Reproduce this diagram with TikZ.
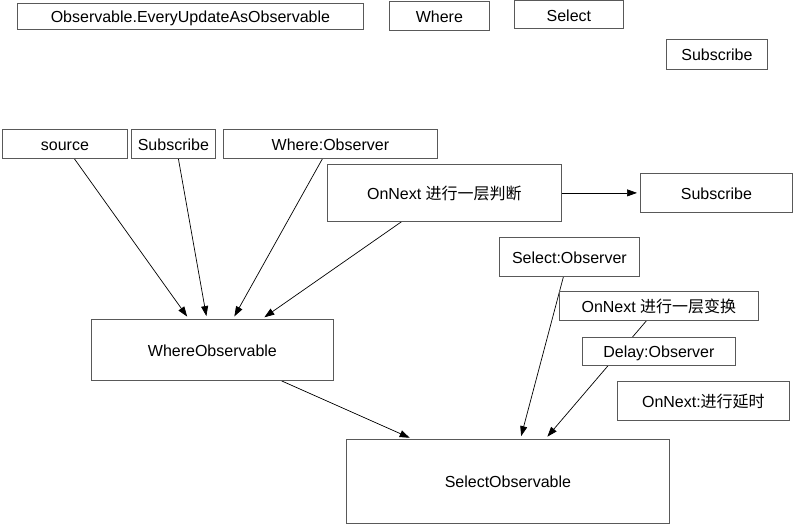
\documentclass[tikz,border=0pt]{standalone}
\usepackage{fontspec}
\setmainfont{Liberation Sans}
\newfontfamily\cjk{Noto Sans CJK SC}
\usetikzlibrary{arrows.meta,backgrounds}
\begin{document}
\begin{tikzpicture}[x=1pt,y=-1pt,
  box/.style={draw=black!65, line width=0.8pt, fill=white, anchor=north west, inner sep=0pt,
    font=\fontsize{16}{18}\selectfont, text=black, text height=13.5pt, text depth=1pt},
  arr/.style={draw=black, line width=0.7pt, -{Triangle[length=10pt,width=7pt]}, shorten >=3pt}]
\useasboundingbox (0,0) rectangle (793,524);
% top row
\node[box, minimum width=346pt, minimum height=26pt] (obs) at (17,3) {Observable.EveryUpdateAsObservable};
\node[box, minimum width=100pt, minimum height=29pt] (where) at (389,1) {Where};
\node[box, minimum width=109pt, minimum height=28pt] (select) at (514,0.5) {Select};
\node[box, minimum width=101pt, minimum height=30pt] (subA) at (666,39) {Subscribe};
% second row
\node[box, minimum width=125pt, minimum height=29pt] (source) at (2,129) {source};
\node[box, minimum width=84pt, minimum height=29pt] (subB) at (131,129) {Subscribe};
\node[box, minimum width=214pt, minimum height=29pt] (wobs) at (223,129) {Where:Observer};
\node[box, minimum width=234pt, minimum height=57pt] (onw) at (327,164) {OnNext {\cjk 进行一层判断}};
\node[box, minimum width=152pt, minimum height=39pt] (subC) at (640,173) {Subscribe};
\node[box, minimum width=242pt, minimum height=61pt] (wo) at (91,319) {WhereObservable};
\node[box, minimum width=323pt, minimum height=84pt] (so) at (346,439) {SelectObservable};
\node[box, minimum width=140pt, minimum height=39pt] (sobs) at (499,237) {Select:Observer};
\node[box, minimum width=199pt, minimum height=29pt] (ons) at (559,291) {OnNext {\cjk 进行一层变换}};
\node[box, minimum width=172pt, minimum height=39pt] (ond) at (617,381) {OnNext:{\cjk 进行延时}};
\begin{pgfonlayer}{background}
\fill[white] (0,0) rectangle (793,524);
\draw[arr] ([xshift=9.5pt]source.south) -- ([xshift=-23.5pt]wo.north);
\draw[arr] ([xshift=5pt]subB.south) -- ([xshift=-5.5pt]wo.north);
\draw[arr] ([xshift=-8pt]wobs.south) -- ([xshift=20.5pt]wo.north);
\draw[arr] ([xshift=-43pt]onw.south) -- ([xshift=49.5pt]wo.north);
\draw[arr] ([xshift=69pt]wo.south) -- ([xshift=-95.5pt]so.north);
\draw[arr] ([xshift=-6pt]sobs.south) -- ([xshift=12.5pt]so.north);
\draw[arr] ([xshift=-12.5pt]ons.south) -- ([xshift=37.5pt]so.north);
\end{pgfonlayer}
\draw[arr] (onw.east) -- (subC.west);
\node[box, minimum width=153pt, minimum height=28pt] (dobs) at (582,337) {Delay:Observer};
\end{tikzpicture}
\end{document}
